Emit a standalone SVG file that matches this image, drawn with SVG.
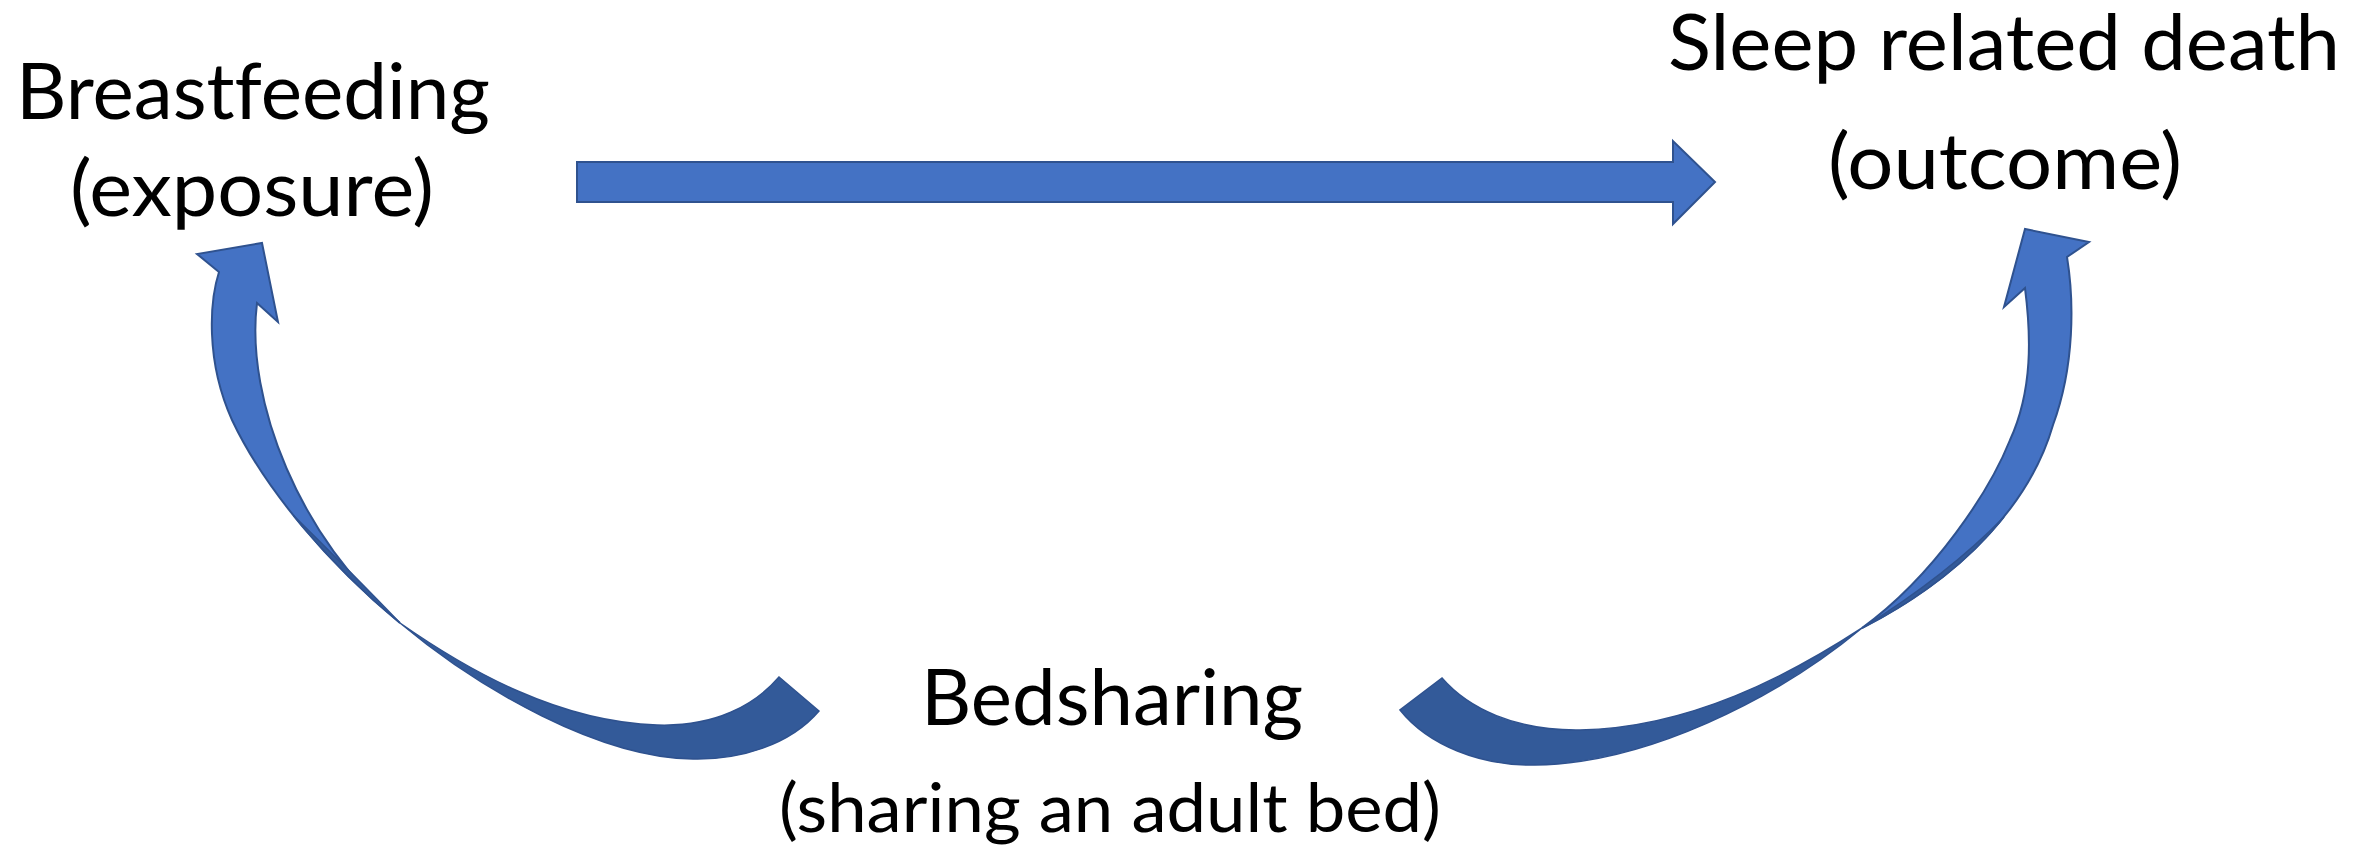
<svg xmlns="http://www.w3.org/2000/svg" width="2366" height="847" viewBox="0 0 2366 847">
<style>
.lbl{font-family:Lato,"Open Sans","Liberation Sans",sans-serif;fill:#000;font-variant-ligatures:none;font-feature-settings:"liga" 0,"clig" 0;}
.big{font-size:77px;}
.small{font-size:68px;}
.light{fill:#4472C4;stroke:#2F528F;stroke-width:2;stroke-linejoin:miter;}
.dark{fill:#335A99;stroke:#2F528F;stroke-width:1.5;stroke-linejoin:miter;}
</style>
<rect width="2366" height="847" fill="#ffffff"/>
<g id="connectors">
  <g id="edge-breastfeeding-death">
    <path class="light" d="M 577,162 L 1673,162 L 1673,141 L 1715,182 L 1673,224 L 1673,202 L 577,202 Z"/>
  </g>
  <g id="edge-bedsharing-breastfeeding">
    <path class="light" d="M 262,243 L 278,322 L 257,303 C 245,400 300,540 400,623 C 330,565 265,490 232,420 C 205,360 210,300 219,272 L 197,254 Z"/>
    <path class="dark" d="M 400,623 C 470,672 560,722 657,725 C 715,727 755,705 779,677 L 819,711 C 790,745 740,760 693,759 C 600,758 480,690 400,623 C 361.5,591 324.5,554 293.5,515.5 C 328.5,550 365.5,587 400,623 Z"/>
  </g>
  <g id="edge-bedsharing-death">
    <path class="light" d="M 2025,229 L 2004,307 L 2025,288 C 2031,335 2033,390 2010,440 C 1990,490 1935,575 1862,628 C 1960,578 2030,505 2053,425 C 2075,365 2074,300 2067,257 L 2089,242 Z"/>
    <path class="dark" d="M 1862,628 C 1790,675 1690,728 1580,730 C 1515,731 1468,708 1442,678 L 1400,710 C 1428,745 1480,766 1535,765 C 1645,764 1775,700 1862,628 C 1921,598 1970,560 2004,517 C 1966,556 1917,594 1862,628 Z"/>
  </g>
</g>
<g id="node-breastfeeding">
  <text class="lbl big" x="253" y="119" text-anchor="middle" textLength="474" lengthAdjust="spacingAndGlyphs">Breastfeeding</text>
  <text class="lbl big" x="252" y="216" text-anchor="middle" textLength="364" lengthAdjust="spacingAndGlyphs">(exposure)</text>
</g>
<g id="node-sleep-death">
  <text class="lbl big" x="2004" y="70" text-anchor="middle" textLength="672" lengthAdjust="spacingAndGlyphs">Sleep related death</text>
  <text class="lbl big" x="2005" y="189" text-anchor="middle" textLength="354" lengthAdjust="spacingAndGlyphs">(outcome)</text>
</g>
<g id="node-bedsharing">
  <text class="lbl big" x="1112" y="725" text-anchor="middle" textLength="382" lengthAdjust="spacingAndGlyphs">Bedsharing</text>
  <text class="lbl small" x="1110" y="832" text-anchor="middle" textLength="662" lengthAdjust="spacingAndGlyphs">(sharing an adult bed)</text>
</g>
</svg>
